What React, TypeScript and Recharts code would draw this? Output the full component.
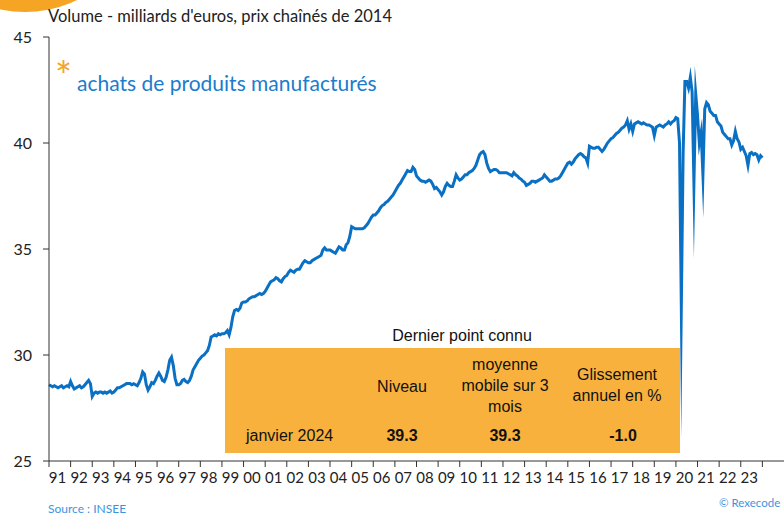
import { Line, LineChart, XAxis, YAxis } from "recharts";

// achats de produits manufacturés, milliards d'euros (prix chaînés 2014), un tableau par année, jan -> déc
const v1991 = [28.6, 28.55, 28.5, 28.55, 28.5, 28.45, 28.5, 28.55, 28.45, 28.5, 28.55, 28.5];
const v1992 = [28.75, 28.55, 28.4, 28.45, 28.5, 28.55, 28.45, 28.5, 28.6, 28.7, 28.8, 28.65];
const v1993 = [28.05, 28.2, 28.25, 28.2, 28.25, 28.25, 28.2, 28.25, 28.2, 28.25, 28.3, 28.2];
const v1994 = [28.25, 28.35, 28.45, 28.45, 28.5, 28.55, 28.6, 28.65, 28.65, 28.65, 28.6, 28.65];
const v1995 = [28.6, 28.55, 28.7, 28.9, 29.2, 29.1, 28.6, 28.35, 28.5, 28.7, 28.65, 28.8];
const v1996 = [29.0, 29.15, 29.0, 28.8, 28.75, 28.95, 29.3, 29.75, 29.9, 29.5, 28.9, 28.6];
const v1997 = [28.6, 28.65, 28.8, 28.85, 28.75, 28.7, 28.8, 29.0, 29.3, 29.45, 29.6, 29.75];
const v1998 = [29.85, 29.95, 30.0, 30.1, 30.2, 30.45, 30.85, 30.9, 30.95, 30.9, 31.0, 30.95];
const v1999 = [31.0, 31.0, 31.05, 31.15, 30.95, 31.3, 31.8, 32.1, 32.15, 32.1, 32.2, 32.45];
const v2000 = [32.5, 32.5, 32.55, 32.65, 32.7, 32.75, 32.75, 32.8, 32.85, 32.9, 32.85, 32.9];
const v2001 = [33.0, 33.15, 33.3, 33.45, 33.5, 33.55, 33.65, 33.6, 33.5, 33.45, 33.6, 33.7];
const v2002 = [33.75, 33.9, 34.0, 33.95, 33.9, 34.0, 34.05, 34.05, 34.2, 34.35, 34.45, 34.4];
const v2003 = [34.35, 34.35, 34.45, 34.5, 34.55, 34.6, 34.65, 34.7, 34.95, 35.05, 34.95, 34.95];
const v2004 = [34.95, 34.9, 34.85, 34.8, 34.95, 35.1, 35.05, 34.95, 34.95, 35.2, 35.3, 35.6];
const v2005 = [36.05, 36.0, 35.95, 35.95, 35.95, 35.95, 35.95, 36.0, 36.1, 36.2, 36.35, 36.5];
const v2006 = [36.6, 36.6, 36.7, 36.8, 36.95, 37.05, 37.1, 37.2, 37.25, 37.35, 37.45, 37.55];
const v2007 = [37.7, 37.85, 38.0, 38.1, 38.25, 38.4, 38.55, 38.7, 38.65, 38.65, 38.85, 38.75];
const v2008 = [38.45, 38.35, 38.25, 38.2, 38.2, 38.15, 38.2, 38.25, 38.2, 38.05, 37.85, 37.9];
const v2009 = [37.8, 37.7, 37.55, 37.7, 37.95, 38.1, 38.0, 37.95, 37.95, 38.2, 38.5, 38.35];
const v2010 = [38.25, 38.3, 38.4, 38.5, 38.5, 38.6, 38.65, 38.7, 38.8, 38.95, 39.2, 39.45];
const v2011 = [39.55, 39.6, 39.45, 39.05, 38.8, 38.65, 38.7, 38.75, 38.75, 38.7, 38.6, 38.6];
const v2012 = [38.6, 38.6, 38.6, 38.55, 38.5, 38.45, 38.6, 38.5, 38.45, 38.35, 38.3, 38.2];
const v2013 = [38.15, 38.0, 38.05, 38.1, 38.2, 38.2, 38.15, 38.2, 38.25, 38.3, 38.35, 38.5];
const v2014 = [38.4, 38.3, 38.2, 38.2, 38.25, 38.3, 38.3, 38.35, 38.45, 38.6, 38.75, 38.9];
const v2015 = [39.05, 39.1, 39.0, 39.1, 39.25, 39.35, 39.45, 39.5, 39.45, 39.35, 39.3, 39.05];
const v2016 = [39.85, 39.8, 39.75, 39.75, 39.8, 39.8, 39.7, 39.6, 39.7, 39.85, 40.0, 40.1];
const v2017 = [40.2, 40.25, 40.35, 40.45, 40.5, 40.6, 40.7, 40.75, 40.85, 41.05, 40.65, 40.9];
const v2018 = [40.55, 40.9, 40.95, 41.0, 40.95, 40.9, 40.95, 40.9, 40.85, 40.85, 40.8, 40.75];
const v2019 = [40.35, 40.75, 40.8, 40.85, 40.8, 40.75, 40.85, 40.9, 41.0, 40.9, 41.0, 41.05];
const v2020 = [41.2, 41.15, 40.0, 32.3, 39.5, 42.9, 42.9, 42.6, 43.1, 42.4, 38.1, 42.3];
const v2021 = [41.3, 40.0, 40.5, 38.5, 41.6, 41.9, 41.8, 41.5, 41.4, 41.3, 41.3, 41.0];
const v2022 = [40.9, 40.8, 40.5, 40.4, 40.3, 40.2, 40.2, 39.9, 40.1, 40.55, 40.2, 40.05];
const v2023 = [39.7, 39.8, 39.6, 39.4, 38.95, 39.5, 39.55, 39.45, 39.5, 39.45, 39.2, 39.4];
const v2024 = [39.3];

const firstYear = 1991;
const byYear = [
  v1991, v1992, v1993, v1994, v1995, v1996, v1997, v1998, v1999, v2000, v2001, v2002,
  v2003, v2004, v2005, v2006, v2007, v2008, v2009, v2010, v2011, v2012, v2013, v2014,
  v2015, v2016, v2017, v2018, v2019, v2020, v2021, v2022, v2023, v2024,
];

const data = byYear.flatMap((vals, i) =>
  vals.map((v, m) => ({ t: firstYear + i + m / 12, v })),
);

const yearTicks = Array.from({ length: 34 }, (_, i) => firstYear + i);
const yTicks = [25, 30, 35, 40, 45];

const lastPoint = { label: "janvier 2024", niveau: "39.3", mm3: "39.3", glissement: "-1.0" };

const BLUE = "#0A70C4";
const ORANGE = "#F6A424";
const BOX = "#F8B13D";
const FONT = "Lato, 'Open Sans', sans-serif";
const ARIAL = "'Liberation Sans', Arial, sans-serif";

function YearTick({ x, y, payload }: any) {
  if (payload.value >= 2024) return null;
  const label = String(payload.value % 100).padStart(2, "0");
  return (
    <text x={x + 8.5} y={y + 14} textAnchor="middle" fontSize={15} fill="#222" fontFamily={FONT}>
      {label}
    </text>
  );
}

export default function App() {
  return (
    <div style={{ position: "relative", width: 784, height: 516, background: "#fff", overflow: "hidden", fontFamily: FONT }}>
      <style>{`body{margin:0} .recharts-line-curve{stroke-linejoin:miter;stroke-miterlimit:300}`}</style>
      <div
        style={{
          position: "absolute",
          left: 25 - 119,
          top: -107 - 119,
          width: 238,
          height: 238,
          borderRadius: "50%",
          background: ORANGE,
        }}
      />
      <div style={{ position: "absolute", left: 48, top: 6, fontSize: 16.5, color: "#222", whiteSpace: "nowrap" }}>
        Volume - milliards d'euros, prix chaînés de 2014
      </div>
      <div style={{ position: "absolute", left: 55, top: 56, fontSize: 40, color: ORANGE, lineHeight: 1 }}>*</div>
      <div style={{ position: "absolute", left: 77, top: 70, fontSize: 21, color: "#1A7DCD", whiteSpace: "nowrap" }}>
        achats de produits manufacturés
      </div>

      <div
        style={{
          position: "absolute",
          left: 382,
          top: 327,
          width: 160,
          textAlign: "center",
          fontFamily: ARIAL,
          fontSize: 16,
          color: "#111",
        }}
      >
        Dernier point connu
      </div>
      <div
        style={{
          position: "absolute",
          left: 225,
          top: 348,
          width: 455,
          height: 105,
          background: BOX,
          fontFamily: ARIAL,
          fontSize: 16,
          color: "#111",
          lineHeight: "21px",
        }}
      >
        <div style={{ position: "absolute", left: 137, top: 28, width: 80, textAlign: "center" }}>Niveau</div>
        <div style={{ position: "absolute", left: 220, top: 6, width: 120, textAlign: "center" }}>
          moyenne
          <br />
          mobile sur 3
          <br />
          mois
        </div>
        <div style={{ position: "absolute", left: 332, top: 16, width: 120, textAlign: "center" }}>
          Glissement
          <br />
          annuel en %
        </div>
        <div style={{ position: "absolute", left: 21, top: 77 }}>{lastPoint.label}</div>
        <div style={{ position: "absolute", left: 137, top: 77, width: 80, textAlign: "center", fontWeight: 700 }}>
          {lastPoint.niveau}
        </div>
        <div style={{ position: "absolute", left: 240, top: 77, width: 80, textAlign: "center", fontWeight: 700 }}>
          {lastPoint.mm3}
        </div>
        <div style={{ position: "absolute", left: 358, top: 77, width: 80, textAlign: "center", fontWeight: 700 }}>
          {lastPoint.glissement}
        </div>
      </div>

      <LineChart
        width={784}
        height={516}
        data={data}
        margin={{ top: 37, right: 0, left: 0, bottom: 25 }}
        style={{ position: "absolute", left: 0, top: 0 }}
      >
        <XAxis
          dataKey="t"
          type="number"
          domain={[1991, 2025]}
          ticks={yearTicks}
          interval={0}
          height={30}
          tickSize={6}
          stroke="#333"
          tick={<YearTick />}
        />
        <YAxis
          domain={[25, 45]}
          ticks={yTicks}
          width={49}
          tickSize={6}
          tickMargin={11}
          stroke="#333"
          tick={{ fontSize: 16, fill: "#222", fontFamily: FONT }}
        />
        <Line
          dataKey="v"
          type="linear"
          stroke={BLUE}
          strokeWidth={3}
          dot={false}
          isAnimationActive={false}
        />
      </LineChart>

      <div style={{ position: "absolute", left: 48, top: 502, fontSize: 12, lineHeight: "13px", color: "#3D94DD", whiteSpace: "nowrap" }}>
        Source : INSEE
      </div>
      <div style={{ position: "absolute", left: 719, top: 496, fontSize: 11.5, lineHeight: "13px", color: "#3D94DD", whiteSpace: "nowrap" }}>
        © Rexecode
      </div>
    </div>
  );
}
